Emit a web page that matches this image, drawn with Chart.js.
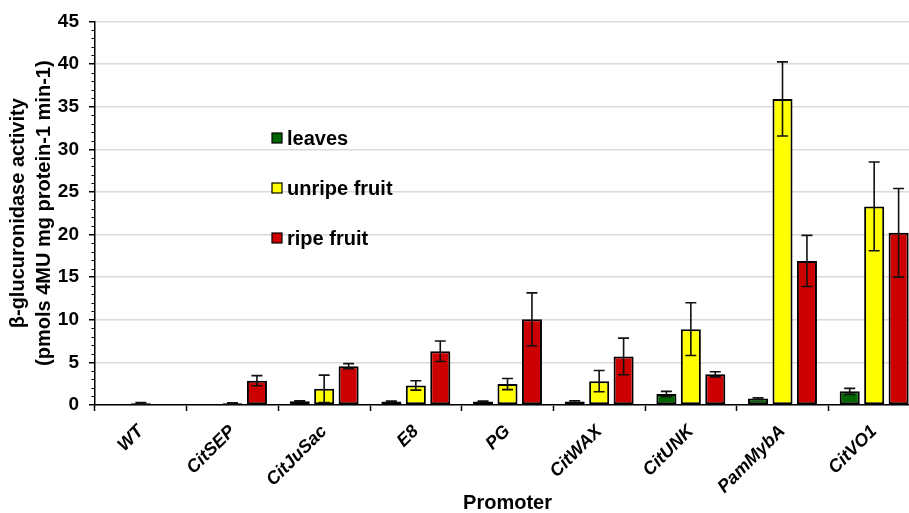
<!DOCTYPE html>
<html>
<head>
<meta charset="utf-8">
<script src="https://cdn.jsdelivr.net/npm/chart.js@4/dist/chart.umd.min.js"></script>
<style>
html,body{margin:0;padding:0;background:#fff;overflow:hidden;}
#wrap{width:925px;height:513px;}
</style>
</head>
<body>
<div id="wrap"><canvas id="c" width="925" height="513"></canvas></div>
<script>
const categories = ['WT','CitSEP','CitJuSac','E8','PG','CitWAX','CitUNK','PamMybA','CitVO1'];
const seriesNames = ['leaves','unripe fruit','ripe fruit'];
const leaves      = [0.02, 0.02, 0.45, 0.4, 0.4, 0.4, 1.3, 0.75, 1.6];
const leavesErr   = [0, 0, 0.05, 0.05, 0.05, 0.1, 0.3, 0.1, 0.35];
const unripe      = [0.2, 0.2, 1.9, 2.3, 2.45, 2.8, 8.9, 35.9, 23.3];
const unripeErr   = [0.1, 0.05, 1.6, 0.55, 0.65, 1.25, 3.1, 4.35, 5.2];
const ripe        = [0.02, 2.85, 4.55, 6.3, 10.05, 5.7, 3.6, 16.9, 20.2];
const ripeErr     = [0, 0.6, 0.3, 1.2, 3.1, 2.15, 0.3, 3.0, 5.2];
const yTicks      = [0,5,10,15,20,25,30,35,40,45];
const colors      = ['#006400','#ffff00','#cc0000'];

const FONT = "'Liberation Sans', Arial, sans-serif";

const errorBars = {
  id:'errorBars',
  afterDatasetsDraw(chart){
    const ctx = chart.ctx, ys = chart.scales.y;
    const errs = [leavesErr, unripeErr, ripeErr];
    chart.data.datasets.forEach((ds,i)=>{
      const meta = chart.getDatasetMeta(i);
      meta.data.forEach((bar,j)=>{
        const e = errs[i][j];
        if(!e) return;
        const v = ds.data[j];
        const yt = ys.getPixelForValue(v+e), yb = ys.getPixelForValue(Math.max(0,v-e));
        ctx.save();
        ctx.strokeStyle='#111'; ctx.lineWidth=1.6;
        ctx.beginPath();
        ctx.moveTo(bar.x,yt); ctx.lineTo(bar.x,yb);
        ctx.moveTo(bar.x-5.5,yt); ctx.lineTo(bar.x+5.5,yt);
        ctx.moveTo(bar.x-5.5,yb); ctx.lineTo(bar.x+5.5,yb);
        ctx.stroke();
        ctx.restore();
      });
    });
  }
};

const minorTicks = {
  id:'minorTicks',
  afterDraw(chart){
    const ctx = chart.ctx, ys = chart.scales.y, x0 = chart.chartArea.left;
    ctx.save();
    ctx.strokeStyle='#000'; ctx.lineWidth=1.2;
    ctx.beginPath();
    for(let v=1; v<45; v++){
      if(v%5===0) continue;
      const y = Math.round(ys.getPixelForValue(v))+0.5;
      ctx.moveTo(x0-3.5,y); ctx.lineTo(x0,y);
    }
    ctx.stroke();
    ctx.restore();
  }
};

const legendBox = {
  id:'legendBox',
  afterDraw(chart){
    const ctx = chart.ctx;
    const x = 272, ys = [138,188,238];
    ctx.save();
    ctx.font = "bold 20px " + FONT;
    ctx.textBaseline='middle';
    seriesNames.forEach((n,i)=>{
      ctx.fillStyle=colors[i];
      ctx.fillRect(x, ys[i]-5, 10, 10);
      ctx.strokeStyle='#000'; ctx.lineWidth=1.2;
      ctx.strokeRect(x, ys[i]-5, 10, 10);
      ctx.fillStyle='#000';
      ctx.fillText(n, x+15, ys[i]+1);
    });
    ctx.restore();
  }
};

new Chart(document.getElementById('c'), {
  type:'bar',
  data:{
    labels:categories,
    datasets:[
      {label:seriesNames[0], data:leaves, backgroundColor:colors[0], borderColor:'#000', borderWidth:2, borderSkipped:false},
      {label:seriesNames[1], data:unripe, backgroundColor:colors[1], borderColor:'#000', borderWidth:2, borderSkipped:false},
      {label:seriesNames[2], data:ripe, backgroundColor:colors[2], borderColor:'#000', borderWidth:2, borderSkipped:false}
    ]
  },
  options:{
    responsive:false,
    animation:false,
    devicePixelRatio:1,
    layout:{padding:{top:17,right:5,left:0,bottom:0}},
    plugins:{legend:{display:false}, tooltip:{enabled:false}},
    datasets:{bar:{categoryPercentage:0.8, barPercentage:0.82}},
    scales:{
      x:{
        grid:{display:true, offset:true, drawOnChartArea:false, tickLength:6, tickColor:'#000', tickWidth:1.5},
        border:{display:true, color:'#000', width:1.5},
        ticks:{color:'#000', font:{family:FONT, size:18, weight:'bold', style:'italic'}, maxRotation:45, minRotation:45, autoSkip:false, padding:10},
        title:{display:true, text:'Promoter', color:'#000', font:{family:FONT, size:20, weight:'bold'}, padding:{top:0,bottom:-2}},
        afterFit(s){ s.height = 108; }
      },
      y:{
        min:0, max:45,
        afterBuildTicks(s){ s.ticks = yTicks.map(v=>({value:v})); },
        grid:{color:'#d9d9d9', lineWidth:1.5, tickLength:6, tickColor:'#000', tickWidth:1.5},
        border:{display:true, color:'#000', width:1.5},
        ticks:{color:'#000', font:{family:FONT, size:19, weight:'bold'}, padding:10},
        title:{display:true, text:['β-glucuronidase activity','(pmols 4MU mg protein-1 min-1)'], color:'#000', font:{family:FONT, size:20, weight:'bold', lineHeight:1.3}, padding:{top:5,bottom:0}},
        afterFit(s){ s.width = 95; }
      }
    }
  },
  plugins:[errorBars, minorTicks, legendBox]
});
</script>
</body>
</html>
